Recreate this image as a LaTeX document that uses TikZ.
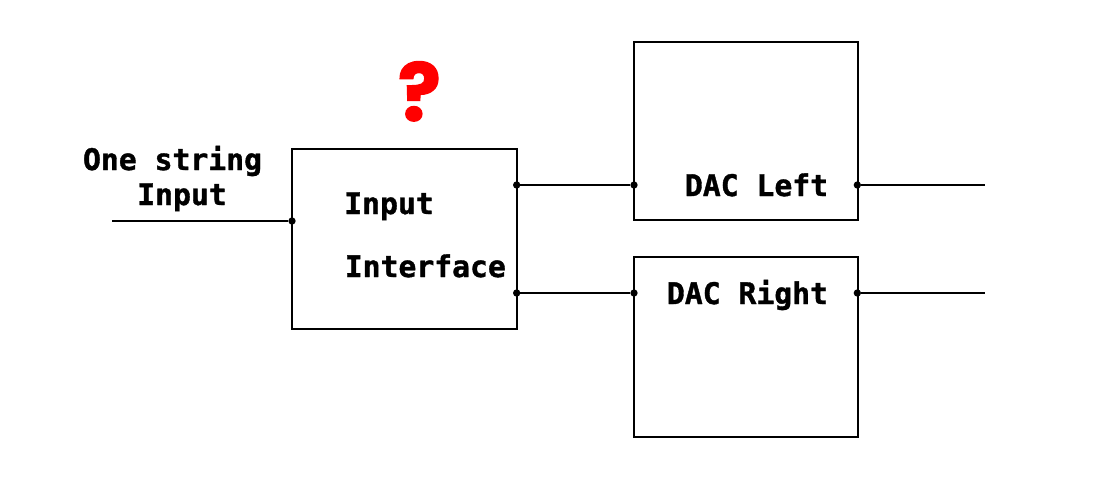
\documentclass[tikz,border=0pt]{standalone}
\usepackage{fontspec}
\setmonofont[BoldFeatures={FakeBold=1.2}]{DejaVu Sans Mono}
\newfontfamily\markfont[BoldFeatures={FakeBold=1.5}]{Poppins}
\usetikzlibrary{positioning}
\definecolor{markred}{rgb}{1,0,0}
\tikzstyle{block} = [
 rectangle,
 draw=black,
 line width=1.5pt,
 inner sep=0pt
]
\tikzstyle{label} = [
 font=\ttfamily\bfseries\fontsize{22.3}{24}\selectfont,
 inner sep=0pt,
 anchor=base
]
\tikzstyle{pin} = [
 circle,
 fill=black,
 inner sep=0pt,
 outer sep=0pt,
 minimum size=5.5pt
]
\begin{document}
\begin{tikzpicture}[x=1pt,y=-1pt,line width=1.5pt]
  \useasboundingbox (0,0) rectangle (830.25,369);
  % blocks
  \node [block, minimum width=168.75pt, minimum height=135pt] (iface) at (303.4,179.25) {};
  \node [block, minimum width=168pt, minimum height=133.5pt] (left) at (559.5,98.25) {};
  \node [block, minimum width=168pt, minimum height=135pt] (right) at (559.5,260) {};
  % pins
  \node [pin] (pinIn) at (219,165.75) {};
  \node [pin] (pinA) at (387.5,138.75) {};
  \node [pin] (pinB) at (387.5,219.75) {};
  \node [pin] (pinLi) at (475.5,138.75) {};
  \node [pin] (pinRi) at (475.5,219.75) {};
  \node [pin] (pinLo) at (643,138.75) {};
  \node [pin] (pinRo) at (643,219.75) {};
  \coordinate (start) at (84,165.75);
  \coordinate (endL) at (738.5,138.75);
  \coordinate (endR) at (738.5,219.75);
  % wires
  \draw (start) -- (pinIn);
  \draw (pinA) -- (pinLi);
  \draw (pinB) -- (pinRi);
  \draw (pinLo) -- (endL);
  \draw (pinRo) -- (endR);
  % texts
  \node [label] (one) at (129.4,127.5) {One string};
  \node [label] (inp) at (136.5,153.75) {Input};
  \node [label] (t1) at (291.75,160.5) {Input};
  \node [label] (t2) at (319,207.75) {Interface};
  \node [label] (t3) at (567.4,147) {DAC Left};
  \node [label] (t4) at (560.6,228) {DAC Right};
  \node [font=\markfont\bfseries\fontsize{60}{60}\selectfont, text=markred, inner sep=0pt] (mark) at (314.5,68.5) {?};
\end{tikzpicture}
\end{document}
